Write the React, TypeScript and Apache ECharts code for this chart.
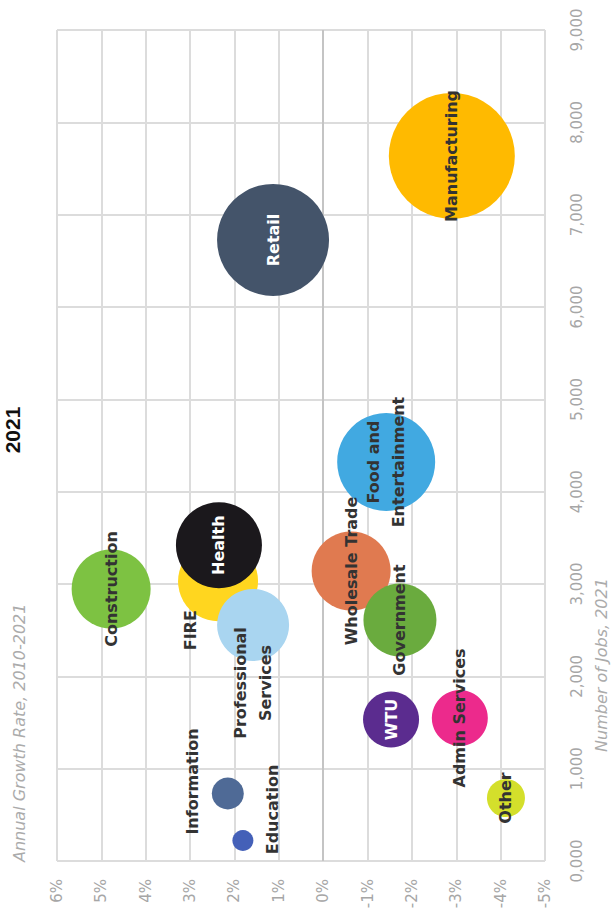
import React, { useEffect, useRef } from "react";
import * as echarts from "echarts";

// ---- Data ----
const industries = [
  "FIRE",
  "Health",
  "Professional Services",
  "Construction",
  "Information",
  "Education",
  "Wholesale Trade",
  "Government",
  "WTU",
  "Admin Services",
  "Other",
  "Food and Entertainment",
  "Retail",
  "Manufacturing",
];
// Annual growth rate 2010-2021 (%)
const growthRate = [2.37, 2.35, 1.58, 4.78, 2.15, 1.81, -0.63, -1.73, -1.53, -3.08, -4.12, -1.42, 1.13, -2.9];
// Number of jobs, 2021
const jobs = [3030, 3420, 2556, 2946, 731, 222, 3141, 2610, 1533, 1549, 682, 4321, 6726, 7636];
// Bubble measure (area-proportional)
const sizeMeasure = [1600, 1849, 1296, 1560, 256, 110, 1560, 1332, 784, 784, 361, 2401, 3136, 3969];
// Label text shown on the chart
const labelText = [
  "FIRE",
  "Health",
  "Professional\nServices",
  "Construction",
  "Information",
  "Education",
  "Wholesale Trade",
  "Government",
  "WTU",
  "Admin Services",
  "Other",
  "Food and\nEntertainment",
  "Retail",
  "Manufacturing",
];
const growthMin = -5;
const growthMax = 6;
const jobsMin = 0;
const jobsMax = 9000;

// ---- Styles ----
const colors = [
  "#FFD61F",
  "#1B181C",
  "#A9D5F0",
  "#7DC242",
  "#4F6A96",
  "#4460B8",
  "#E07A50",
  "#6AAB3E",
  "#5B2C8F",
  "#EC2A8C",
  "#D4DF2B",
  "#41A9E1",
  "#44546A",
  "#FFBA00",
];
const labelColors = [
  "#333333", "#ffffff", "#333333", "#333333", "#333333", "#333333", "#333333",
  "#333333", "#ffffff", "#333333", "#333333", "#333333", "#ffffff", "#333333",
];
// screen-space label shifts (px) from bubble centre
const labelShift: [number, number][] = [
  [-28, 49], [0, 0], [0, 58], [0, 0], [-35, -12], [30, -31], [0, 0],
  [0, 0], [0, 0], [0, 0], [0, 0], [0, 0], [0, 0], [0, 0],
];
// label is rotated 90deg CCW, so its offset lives in the rotated frame
const toOffset = (s: [number, number]) => [-s[1], s[0]];

const fmtJobs = (v: number) => (v === 0 ? "0,000" : v.toLocaleString("en-US"));

export default function App() {
  const ref = useRef<HTMLDivElement>(null);
  useEffect(() => {
    document.body.style.margin = "0";
    const chart = echarts.init(ref.current!, null, { renderer: "svg" });
    const gridLeft = 57, gridRight = 70, gridTop = 30, gridBottom = 60;
    chart.setOption({
      animation: false,
      backgroundColor: "#ffffff",
      grid: { left: gridLeft, right: gridRight, top: gridTop, bottom: gridBottom, containLabel: false },
      xAxis: {
        type: "value",
        inverse: true,
        min: growthMin,
        max: growthMax,
        interval: 1,
        axisLine: { show: false },
        axisTick: { show: false },
        splitLine: { show: true, lineStyle: { color: "#dcdcdc", width: 2 } },
        axisLabel: {
          rotate: 90,
          margin: 18,
          color: "#a6a6a6",
          fontFamily: "DejaVu Sans",
          fontSize: 15,
          formatter: (v: number) => `${v}%`,
        },
      },
      yAxis: {
        type: "value",
        position: "right",
        min: jobsMin,
        max: jobsMax,
        interval: 1000,
        axisLine: { show: false },
        axisTick: { show: false },
        splitLine: { show: true, lineStyle: { color: "#dcdcdc", width: 2 } },
        axisLabel: {
          rotate: 90,
          margin: 24,
          color: "#a6a6a6",
          fontFamily: "DejaVu Sans",
          fontSize: 15,
          formatter: fmtJobs,
        },
      },
      graphic: [
        {
          type: "text",
          x: 12,
          y: 430,
          rotation: Math.PI / 2,
          style: {
            text: "2021",
            font: "bold 21px 'Liberation Sans', Arial, sans-serif",
            fill: "#111111",
            align: "center",
            verticalAlign: "middle",
          },
        },
        {
          type: "text",
          x: 19,
          y: 862,
          rotation: Math.PI / 2,
          style: {
            text: "Annual Growth Rate, 2010-2021",
            font: "italic 16px 'DejaVu Sans', sans-serif",
            fill: "#ababab",
            align: "left",
            verticalAlign: "middle",
          },
        },
        {
          type: "text",
          x: 601,
          y: 665,
          rotation: Math.PI / 2,
          style: {
            text: "Number of Jobs, 2021",
            font: "italic 16px 'DejaVu Sans', sans-serif",
            fill: "#ababab",
            align: "center",
            verticalAlign: "middle",
          },
        },
      ],
      series: [
        {
          type: "scatter",
          z: 3,
          emphasis: { disabled: true },
          label: {
            show: true,
            position: "inside",
            rotate: 90,
            fontFamily: "DejaVu Sans",
            fontWeight: "bold",
            fontSize: 16,
            lineHeight: 25,
            align: "center",
            verticalAlign: "middle",
          },
          markLine: {
            silent: true,
            z: 1,
            symbol: "none",
            label: { show: false },
            lineStyle: { color: "#c4c4c4", width: 2, type: "solid" },
            data: [{ xAxis: 0 }],
          },
          data: industries.map((name, i) => ({
            name,
            value: [growthRate[i], jobs[i], sizeMeasure[i]],
            symbolSize: 2 * Math.sqrt(sizeMeasure[i]),
            itemStyle: { color: colors[i], opacity: 1 },
            label: {
              formatter: labelText[i],
              color: labelColors[i],
              offset: toOffset(labelShift[i]),
            },
          })),
        },
      ],
    });
    return () => chart.dispose();
  }, []);
  return <div ref={ref} style={{ width: 615, height: 921 }} />;
}
